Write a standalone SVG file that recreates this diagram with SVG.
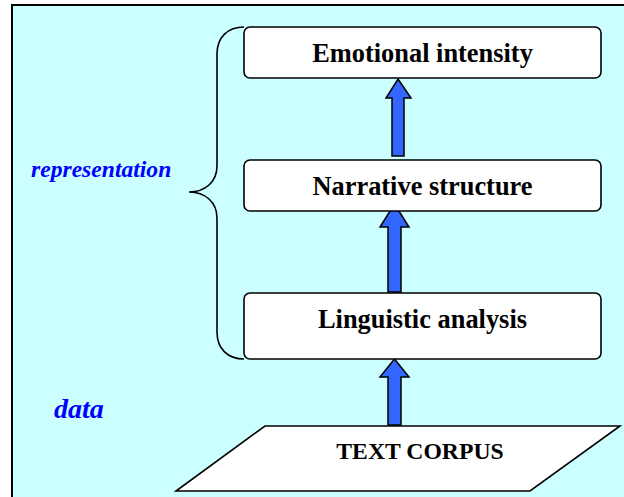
<svg xmlns="http://www.w3.org/2000/svg" width="624" height="497" viewBox="0 0 624 497">
<style>
.box{fill:#fff;stroke:#000;stroke-width:1.6}
.lbl{font-family:"Liberation Serif","Times New Roman",serif;font-weight:bold;fill:#000;text-anchor:middle}
.side{font-family:"Liberation Serif","Times New Roman",serif;font-weight:bold;font-style:italic;fill:#0000FF}
.arr{fill:#3366FF;stroke:#000;stroke-width:1.5;stroke-linejoin:miter}
</style>
<rect x="0" y="0" width="624" height="497" fill="#fff"/>
<rect x="12" y="5" width="614" height="494" fill="#CCFFFF" stroke="#000" stroke-width="2"/>
<g id="brace">
<path d="M244,27 C228,27 217,37 217,54 L217,166 C217,182 205,192 189,192 C205,192 217,202 217,218 L217,332 C217,349 228,359 244,359" fill="none" stroke="#000" stroke-width="1.6"/>
</g>
<g id="label-representation"><text class="side" x="31" y="177" font-size="23.6">representation</text></g>
<g id="label-data"><text class="side" x="54" y="418" font-size="28">data</text></g>
<g id="connectors">
<path class="arr" d="M398,79 L411,98 L404,98 L404,156 L392,156 L392,98 L386,98 Z"/>
<path class="arr" d="M394.5,204 L409,227 L401,227 L401,292 L388,292 L388,227 L380,227 Z"/>
<path class="arr" d="M394.5,359 L409,377 L401,377 L401,425 L388,425 L388,377 L380,377 Z"/>
</g>
<g id="node-emotional">
<rect class="box" x="244" y="27" width="357" height="51" rx="6"/>
<text class="lbl" x="422.5" y="62" font-size="26.4">Emotional intensity</text>
</g>
<g id="node-narrative">
<rect class="box" x="244" y="160" width="357" height="51" rx="6"/>
<text class="lbl" x="422.5" y="195" font-size="26.4">Narrative structure</text>
</g>
<g id="node-linguistic">
<rect class="box" x="244" y="293" width="357" height="66" rx="6"/>
<text class="lbl" x="422.5" y="328" font-size="26.4">Linguistic analysis</text>
</g>
<g id="node-corpus">
<polygon points="265,426 620,426 530,491 176,491" fill="#fff" stroke="#000" stroke-width="1.6"/>
<text class="lbl" x="420" y="459" font-size="23.7">TEXT CORPUS</text>
</g>
</svg>
